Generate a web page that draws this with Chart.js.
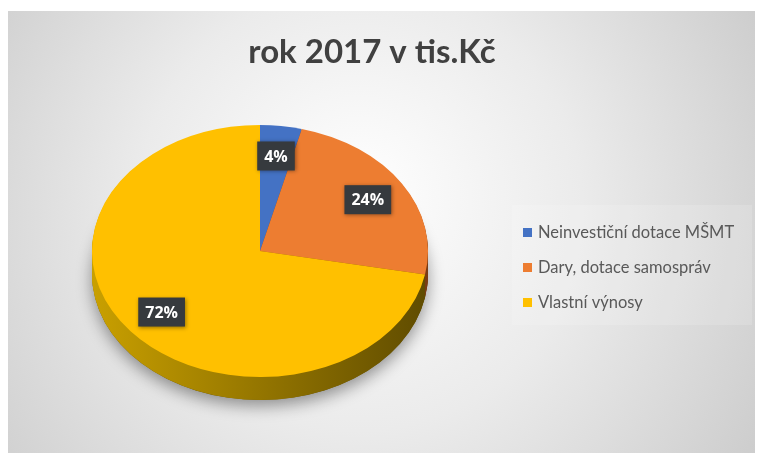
<!DOCTYPE html>
<html>
<head>
<meta charset="utf-8">
<script src="https://cdn.jsdelivr.net/npm/chart.js@4.4.1/dist/chart.umd.min.js"></script>
<style>
  html, body { margin: 0; padding: 0; background: #fff; }
  #wrap { position: relative; width: 760px; height: 453px; }
</style>
</head>
<body>
<div id="wrap"><canvas id="pieChart" width="760" height="453"></canvas></div>
<script>
// data
const chartTitle = 'rok 2017 v tis.Kč';
const categories = ['Neinvestiční dotace MŠMT', 'Dary, dotace samospráv', 'Vlastní výnosy'];
const shares = [4, 24, 72];
const sliceColors = ['#4472c4', '#ed7d31', '#ffc000'];
const sideColors = [['#2f5597', '#203864'], ['#b35a1f', '#7a3b12'], ['#c9a000', '#5f4b00']];

const tilt = 0.75;   // vertical squash of the pie
const depth = 23;    // thickness of the pie in px
const labelRadius = 0.76;

// background panel, title and legend
const decor = {
    id: 'decor',
    beforeDraw(chart) {
        const ctx = chart.ctx;
        ctx.save();
        ctx.fillStyle = '#fff';
        ctx.fillRect(0, 0, chart.width, chart.height);
        const g = ctx.createRadialGradient(360, 190, 20, 360, 230, 470);
        g.addColorStop(0, '#fdfdfd');
        g.addColorStop(0.45, '#ebebeb');
        g.addColorStop(1, '#cbcbcb');
        ctx.fillStyle = g;
        ctx.fillRect(8, 11, 747, 442);
        ctx.fillStyle = 'rgba(255,255,255,0.15)';
        ctx.fillRect(512, 205, 240, 120);
        ctx.restore();
    },
    afterDraw(chart) {
        const ctx = chart.ctx;
        ctx.save();
        ctx.fillStyle = '#404040';
        ctx.font = 'bold 33px Lato';
        ctx.textAlign = 'center';
        ctx.textBaseline = 'middle';
        ctx.fillText(chartTitle, 372, 52);

        ctx.font = '16.5px Lato';
        ctx.textAlign = 'left';
        categories.forEach((c, i) => {
            const yy = 233 + i * 35;
            ctx.fillStyle = sliceColors[i];
            ctx.fillRect(523, yy - 5, 9, 9);
            ctx.fillStyle = '#595959';
            ctx.fillText(c, 538, yy);
        });
        ctx.restore();
    }
};

// fake 3D: side walls under the arcs, squashed top face, label boxes
const pie3d = {
    id: 'pie3d',
    beforeDatasetsDraw(chart) {
        const ctx = chart.ctx;
        const arcs = chart.getDatasetMeta(0).data;
        const cx = arcs[0].x, cy = arcs[0].y, r = arcs[0].outerRadius;

        // shadow under the pie
        ctx.save();
        ctx.translate(0, depth);
        ctx.translate(cx, cy); ctx.scale(1, tilt); ctx.translate(-cx, -cy);
        ctx.shadowColor = 'rgba(0,0,0,0.4)';
        ctx.shadowBlur = 16;
        ctx.shadowOffsetY = 6;
        ctx.fillStyle = '#6a5400';
        ctx.beginPath();
        ctx.arc(cx, cy, r, 0, Math.PI * 2);
        ctx.fill();
        ctx.restore();

        for (let d = depth; d > 0; d--) {
            ctx.save();
            ctx.translate(0, d);
            ctx.translate(cx, cy); ctx.scale(1, tilt); ctx.translate(-cx, -cy);
            arcs.forEach((a, i) => {
                const g = ctx.createLinearGradient(cx - r, 0, cx + r, 0);
                g.addColorStop(0, sideColors[i][0]);
                g.addColorStop(1, sideColors[i][1]);
                ctx.fillStyle = g;
                ctx.beginPath();
                ctx.moveTo(a.x, a.y);
                ctx.arc(a.x, a.y, a.outerRadius, a.startAngle, a.endAngle);
                ctx.closePath();
                ctx.fill();
            });
            ctx.restore();
        }

        ctx.save();
        ctx.translate(cx, cy); ctx.scale(1, tilt); ctx.translate(-cx, -cy);
    },
    afterDatasetsDraw(chart) {
        const ctx = chart.ctx;
        ctx.restore();
        const arcs = chart.getDatasetMeta(0).data;
        ctx.save();
        ctx.font = 'bold 16px "Open Sans"';
        ctx.textAlign = 'center';
        ctx.textBaseline = 'middle';
        arcs.forEach((a, i) => {
            const mid = (a.startAngle + a.endAngle) / 2;
            const rr = a.outerRadius * labelRadius;
            const lx = a.x + Math.cos(mid) * rr;
            const ly = a.y + Math.sin(mid) * rr * tilt;
            const txt = shares[i] + '%';
            const w = ctx.measureText(txt).width + 14;
            const h = 29;
            ctx.save();
            ctx.shadowColor = 'rgba(0,0,0,0.4)';
            ctx.shadowBlur = 4;
            ctx.shadowOffsetX = 1;
            ctx.shadowOffsetY = 1;
            ctx.fillStyle = '#363a3e';
            ctx.fillRect(lx - w / 2, ly - h / 2, w, h);
            ctx.restore();
            ctx.fillStyle = '#ffffff';
            ctx.fillText(txt, lx, ly + 1);
        });
        ctx.restore();
    }
};

new Chart(document.getElementById('pieChart'), {
    type: 'pie',
    data: {
        labels: categories,
        datasets: [{
            data: shares,
            backgroundColor: sliceColors,
            borderWidth: 0
        }]
    },
    options: {
        responsive: false,
        animation: false,
        devicePixelRatio: 1,
        layout: {
            padding: { left: 92, right: 332, top: 83, bottom: 34 }
        },
        plugins: {
            legend: { display: false },
            tooltip: { enabled: false },
            title: { display: false }
        }
    },
    plugins: [decor, pie3d]
});
</script>
</body>
</html>
